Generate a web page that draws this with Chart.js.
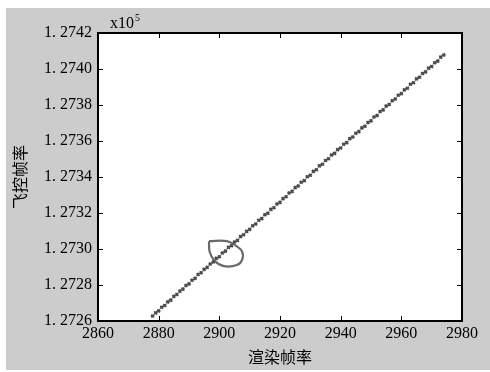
<!DOCTYPE html>
<html>
<head>
<meta charset="utf-8">
<script src="https://cdn.jsdelivr.net/npm/chart.js@4.4.0/dist/chart.umd.min.js"></script>
<style>
  html, body { margin: 0; padding: 0; background: #ffffff; }
  #wrap { width: 490px; height: 372px; }
</style>
</head>
<body>
<div id="wrap"><canvas id="chart" width="490" height="372"></canvas></div>
<script>
// 渲染帧率 (x) vs 飞控帧率 (y, x10^5)
const renderRate = [
  2878, 2879, 2880, 2881, 2882, 2883, 2884, 2885, 2886, 2887,
  2888, 2889, 2890, 2891, 2892, 2893, 2894, 2895, 2896, 2897,
  2898, 2899, 2900, 2901, 2902, 2903, 2904, 2905, 2906, 2907,
  2908, 2909, 2910, 2911, 2912, 2913, 2914, 2915, 2916, 2917,
  2918, 2919, 2920, 2921, 2922, 2923, 2924, 2925, 2926, 2927,
  2928, 2929, 2930, 2931, 2932, 2933, 2934, 2935, 2936, 2937,
  2938, 2939, 2940, 2941, 2942, 2943, 2944, 2945, 2946, 2947,
  2948, 2949, 2950, 2951, 2952, 2953, 2954, 2955, 2956, 2957,
  2958, 2959, 2960, 2961, 2962, 2963, 2964, 2965, 2966, 2967,
  2968, 2969, 2970, 2971, 2972, 2973, 2974
];
const flightRate = [
  1.272628, 1.272645, 1.272656, 1.272676, 1.272686, 1.272706, 1.272716, 1.272737, 1.272747, 1.272766,
  1.272777, 1.272797, 1.272806, 1.272826, 1.272837, 1.272858, 1.272868, 1.272887, 1.272898, 1.272917,
  1.272928, 1.272948, 1.272957, 1.272978, 1.272988, 1.273009, 1.273018, 1.273039, 1.273048, 1.273069,
  1.273079, 1.273098, 1.273109, 1.273129, 1.273139, 1.273160, 1.273169, 1.273190, 1.273199, 1.273220,
  1.273229, 1.273250, 1.273259, 1.273280, 1.273290, 1.273311, 1.273320, 1.273341, 1.273350, 1.273371,
  1.273380, 1.273401, 1.273410, 1.273431, 1.273440, 1.273462, 1.273471, 1.273492, 1.273501, 1.273522,
  1.273531, 1.273552, 1.273561, 1.273582, 1.273591, 1.273613, 1.273622, 1.273643, 1.273652, 1.273673,
  1.273682, 1.273703, 1.273712, 1.273733, 1.273742, 1.273764, 1.273773, 1.273794, 1.273803, 1.273824,
  1.273833, 1.273854, 1.273863, 1.273884, 1.273893, 1.273915, 1.273924, 1.273945, 1.273954, 1.273975,
  1.273984, 1.274005, 1.274014, 1.274035, 1.274044, 1.274066, 1.274078
];

// hand-drawn loop marking a region of the data
const loopX = [2896.6, 2902.5, 2905.3, 2907.5, 2907.5, 2905.8, 2901.5, 2898.4, 2896.8, 2896.6];
const loopY = [1.273044, 1.273044, 1.273020, 1.272986, 1.272940, 1.272911, 1.272905, 1.272935, 1.272985, 1.273044];

const xTicks = [2860, 2880, 2900, 2920, 2940, 2960, 2980];
const yTicks = [1.2726, 1.2728, 1.2730, 1.2732, 1.2734, 1.2736, 1.2738, 1.2740, 1.2742];

const serif = '"Liberation Serif", "DejaVu Serif", serif';
const cjk = '"Noto Sans CJK SC", sans-serif';

const points = renderRate.map((x, i) => ({ x: x, y: flightRate[i] }));
const loop = loopX.map((x, i) => ({ x: x, y: loopY[i] }));

const frame = {
  id: 'frame',
  beforeDraw(chart) {
    const c = chart.ctx, a = chart.chartArea;
    c.save();
    c.fillStyle = '#cccccc';
    c.fillRect(6, 8, 484, 362);
    c.fillStyle = '#ffffff';
    c.fillRect(a.left, a.top, a.right - a.left, a.bottom - a.top);
    c.restore();
  },
  afterDraw(chart) {
    const c = chart.ctx, a = chart.chartArea;
    const xs = chart.scales.x, ys = chart.scales.y;
    c.save();
    c.strokeStyle = '#000000';
    c.lineWidth = 1;
    xTicks.forEach(v => {
      const px = Math.round(xs.getPixelForValue(v)) + 0.5;
      c.beginPath();
      c.moveTo(px, a.bottom); c.lineTo(px, a.bottom - 5);
      c.moveTo(px, a.top); c.lineTo(px, a.top + 5);
      c.stroke();
    });
    yTicks.forEach(v => {
      const py = Math.round(ys.getPixelForValue(v)) + 0.5;
      c.beginPath();
      c.moveTo(a.left, py); c.lineTo(a.left + 5, py);
      c.moveTo(a.right, py); c.lineTo(a.right - 5, py);
      c.stroke();
    });
    c.lineWidth = 2;
    c.strokeRect(a.left, a.top, a.right - a.left, a.bottom - a.top);
    c.fillStyle = '#000000';
    c.textBaseline = 'alphabetic';
    c.font = '16px ' + serif;
    c.fillText('x10', 110, 28);
    const w = c.measureText('x10').width;
    c.font = '10px ' + serif;
    c.fillText('5', 110 + w + 1, 21);
    c.restore();
  }
};

new Chart(document.getElementById('chart'), {
  type: 'scatter',
  data: {
    datasets: [{
      data: points,
      pointStyle: 'crossRot',
      pointRadius: 2,
      borderWidth: 1.8,
      borderColor: '#4a4a4a',
      backgroundColor: '#4a4a4a'
    }, {
      data: loop,
      showLine: true,
      tension: 0.4,
      pointRadius: 0,
      borderColor: '#6a6a6a',
      borderWidth: 2.2
    }]
  },
  options: {
    responsive: false,
    animation: false,
    layout: { padding: { left: 0, right: 28, top: 33, bottom: 0 } },
    plugins: { legend: { display: false }, tooltip: { enabled: false } },
    scales: {
      x: {
        min: 2860,
        max: 2980,
        afterFit: s => { s.height = 51; },
        afterBuildTicks: s => { s.ticks = xTicks.map(v => ({ value: v })); },
        grid: { display: false, drawTicks: false },
        border: { display: false },
        ticks: {
          padding: 3,
          color: '#000000',
          font: { family: serif, size: 16 },
          maxRotation: 0,
          callback: v => String(v)
        },
        title: {
          display: true,
          text: '渲染帧率',
          color: '#000000',
          font: { family: cjk, size: 16 },
          padding: { top: 0, bottom: 5 }
        }
      },
      y: {
        min: 1.2726,
        max: 1.2742,
        afterFit: s => { s.width = 98; },
        afterBuildTicks: s => { s.ticks = yTicks.map(v => ({ value: v })); },
        grid: { display: false, drawTicks: false },
        border: { display: false },
        ticks: {
          padding: 6,
          color: '#000000',
          font: { family: serif, size: 16 },
          callback: v => '1. ' + Number(v).toFixed(4).slice(2)
        },
        title: {
          display: true,
          text: '飞控帧率',
          color: '#000000',
          font: { family: cjk, size: 16 },
          padding: { top: 10, bottom: 0 }
        }
      }
    }
  },
  plugins: [frame]
});
</script>
</body>
</html>
